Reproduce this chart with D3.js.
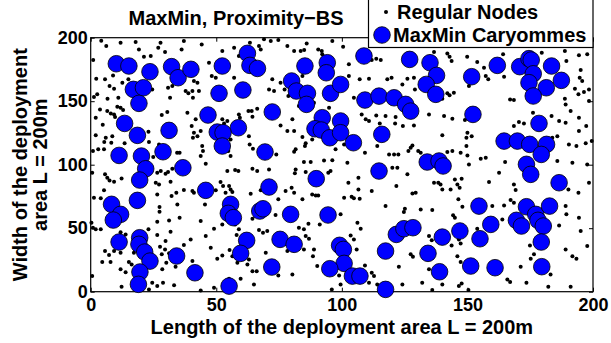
<!DOCTYPE html>
<html><head><meta charset="utf-8">
<script src="https://cdn.jsdelivr.net/npm/d3@7"></script>
<style>body{margin:0;background:#fff}svg{display:block}text{font-family:"Liberation Sans",Arial,Helvetica,sans-serif;font-weight:bold;fill:#000}</style>
</head><body><svg id="c" width="611" height="343"></svg>
<script>
const xTicks=[0,50,100,150,200];
const yTicks=[0,50,100,150,200];
const titleText="MaxMin, Proximity\u2212BS";
const xLabel="Length of the deployment area L = 200m";
const yLabelLines=["Width of the deployment","area L = 200m"];
const legendLabels=["Regular Nodes","MaxMin Caryommes"];
const regularNodes=[
[4.2,197.6],[11.9,196.1],[17.9,196.6],[27.8,196.1],[37.1,197.4],[6.2,193.4],[19.2,190.8],[26.9,192.1],[29.6,188.7],[36.2,190.8],[1.0,182.4],[21.2,185.0],[23.9,185.5],[2.2,167.7],[5.7,167.2],[8.9,170.3],[15.0,167.2],[7.5,161.9],[9.3,159.8],[12.6,164.5],[2.6,155.4],[1.3,153.3],[6.7,152.0],[11.0,152.7],[24.5,159.3],[30.8,160.6],[32.5,161.9],[37.8,158.0],[31.6,152.7],[38.9,156.2],[3.7,143.5],[6.6,142.2],[10.6,145.6],[11.9,144.9],[12.9,143.0],[8.0,140.4],[9.3,139.6],[9.7,137.5],[2.0,137.0],[4.8,131.5],[28.3,139.1],[30.5,141.5],[38.5,140.9],[2.0,123.1],[6.0,121.2],[8.6,122.5],[5.4,117.8],[8.2,117.3],[13.5,116.8],[23.0,126.0],[23.2,117.8],[0.9,110.7],[3.0,112.1],[5.3,112.1],[27.2,116.0],[24.9,106.0],[34.4,109.4],[35.4,109.4],[0.6,93.7],[5.7,92.4],[6.6,89.7],[9.3,86.6],[12.3,89.2],[7.5,87.6],[26.5,93.7],[27.9,95.0],[29.8,92.9],[30.8,94.2],[32.5,96.8],[25.9,85.8],[27.2,84.5],[31.8,86.6],[5.3,79.8],[1.3,74.0],[4.0,73.5],[26.5,76.6],[32.2,75.3],[34.1,77.9],[37.1,80.0],[27.4,66.6],[27.4,63.0],[34.5,68.7],[35.4,58.2],[0.3,54.3],[0.9,50.4],[2.0,49.1],[4.0,49.1],[26.5,55.1],[31.2,56.1],[31.8,47.2],[11.9,46.9],[13.9,45.1],[23.0,49.1],[26.5,44.6],[29.8,39.9],[5.7,32.0],[7.3,28.8],[9.3,32.0],[11.9,30.7],[17.2,30.7],[27.6,35.4],[29.6,33.3],[28.3,29.4],[31.2,30.2],[37.1,36.7],[4.6,23.3],[7.9,23.3],[15.2,23.3],[16.3,21.5],[11.9,17.6],[13.9,15.4],[30.1,22.8],[33.8,19.6],[28.5,17.6],[0.6,12.3],[24.5,7.1],[28.8,7.1],[26.5,4.4],[33.2,5.0],[12.3,3.9],[23.2,1.8],
[44.2,194.7],[52.4,189.5],[57.1,192.1],[63.4,196.1],[67.0,193.4],[67.7,190.8],[69.0,198.7],[71.7,197.4],[74.7,198.1],[78.3,193.4],[47.1,180.3],[59.0,185.5],[41.1,165.9],[42.5,164.5],[48.2,169.8],[49.8,168.5],[57.1,168.5],[72.3,167.2],[75.6,164.5],[77.2,159.3],[40.5,158.0],[43.1,158.0],[40.7,152.7],[71.0,159.3],[73.0,158.0],[78.7,154.1],[41.8,135.7],[40.2,130.4],[41.1,125.2],[42.5,122.5],[40.7,121.2],[43.8,126.5],[44.4,114.7],[44.7,110.7],[43.8,106.8],[45.8,100.8],[52.4,135.7],[54.4,134.4],[53.1,132.5],[59.0,139.6],[59.4,137.0],[62.8,142.2],[64.1,142.2],[64.4,137.8],[66.3,144.1],[75.6,130.9],[78.3,126.5],[63.0,122.5],[63.3,116.0],[64.6,112.6],[55.7,119.9],[54.8,110.7],[55.7,106.8],[51.1,117.3],[73.9,108.1],[54.4,95.0],[57.5,95.8],[58.8,95.0],[64.4,96.8],[66.3,95.0],[71.0,96.3],[51.7,86.3],[52.7,83.2],[55.1,83.2],[55.7,80.5],[56.4,78.5],[53.7,77.9],[49.8,79.8],[40.5,79.2],[41.1,77.9],[63.7,77.1],[67.7,79.8],[71.4,77.9],[74.7,72.7],[77.6,79.2],[45.5,68.7],[43.8,55.6],[49.1,49.6],[52.4,53.0],[57.5,53.0],[59.0,49.1],[58.1,44.6],[64.4,57.4],[67.0,48.5],[68.6,46.4],[70.3,47.7],[73.6,60.3],[39.8,41.2],[45.8,43.8],[47.8,34.6],[52.4,28.6],[55.3,32.8],[63.0,25.4],[69.7,30.7],[78.3,32.0],[40.5,24.1],[50.4,25.9],[56.4,28.0],[58.4,22.8],[62.4,21.5],[64.4,16.2],[66.1,16.2],[59.7,10.2],[65.0,5.7],[74.7,12.8],[55.1,10.2],[43.8,1.0],[49.1,3.1],
[81.0,189.5],[83.6,189.5],[85.0,190.3],[86.0,195.5],[90.6,190.8],[92.0,189.5],[92.2,186.9],[96.2,197.4],[100.5,192.9],[102.8,179.0],[111.9,182.4],[113.7,183.4],[115.5,182.4],[84.3,169.8],[102.8,169.8],[107.1,167.2],[110.8,167.7],[118.1,167.2],[104.8,152.7],[107.9,139.6],[109.5,135.7],[110.8,134.4],[113.7,138.8],[115.1,132.5],[117.4,138.3],[82.9,146.2],[88.9,148.8],[94.9,144.9],[80.3,135.7],[81.0,126.5],[84.3,121.8],[85.6,116.8],[85.3,114.7],[88.2,119.9],[81.6,112.1],[81.0,110.2],[97.5,112.1],[100.9,116.0],[109.2,109.4],[114.1,114.7],[118.8,108.1],[84.9,102.1],[87.6,102.1],[92.9,103.4],[96.2,103.6],[102.2,101.6],[81.6,96.3],[81.3,93.2],[85.6,94.2],[94.6,93.7],[95.5,95.0],[102.6,85.8],[106.6,89.7],[80.0,81.9],[81.0,77.9],[84.3,72.7],[88.2,76.6],[89.6,75.8],[90.6,75.8],[100.9,74.0],[103.9,74.8],[104.8,73.5],[107.1,73.2],[106.6,80.5],[111.9,79.2],[117.4,67.4],[80.0,58.2],[82.9,50.4],[84.9,49.1],[86.7,53.5],[91.2,53.0],[99.5,60.9],[106.2,54.3],[107.5,49.6],[85.6,43.8],[86.9,41.7],[84.9,33.3],[88.9,33.3],[88.5,28.0],[103.5,44.3],[104.8,41.2],[105.9,33.3],[90.2,20.2],[80.3,13.6],[98.9,12.8],[102.2,16.2],[109.2,20.7],[111.9,14.9],[112.8,12.3],[110.8,7.1],[114.1,5.7],[96.0,1.8],[99.5,5.7],
[126.1,167.7],[128.7,168.5],[124.1,163.2],[129.1,159.3],[119.8,168.5],[136.7,188.7],[142.0,187.6],[142.9,185.0],[143.7,181.6],[149.9,185.0],[153.9,180.8],[156.6,176.4],[157.3,169.8],[158.3,167.2],[140.0,152.0],[142.0,156.2],[142.9,154.6],[144.6,156.7],[150.6,161.9],[121.4,137.5],[121.2,132.5],[124.3,130.4],[128.7,130.9],[134.7,139.6],[140.7,138.3],[144.0,136.2],[140.0,123.1],[149.0,135.2],[149.6,121.2],[151.7,122.5],[150.0,125.2],[128.1,115.2],[127.4,113.4],[126.5,110.7],[120.8,108.1],[122.5,108.1],[120.1,97.6],[122.1,97.6],[130.4,110.7],[131.4,109.4],[142.0,110.0],[144.0,110.7],[147.3,109.4],[149.6,114.7],[150.0,107.3],[155.3,104.7],[157.3,105.5],[150.6,100.2],[126.1,92.4],[121.7,83.2],[128.1,77.4],[129.4,77.9],[136.7,85.8],[138.4,85.8],[139.3,84.5],[140.0,80.5],[143.3,80.5],[145.0,88.4],[146.0,84.5],[147.7,88.9],[146.9,81.9],[158.6,86.3],[125.1,65.3],[124.7,62.7],[131.4,64.8],[136.0,64.3],[146.4,72.7],[148.0,66.9],[144.3,60.1],[145.0,58.2],[153.9,49.6],[134.7,43.8],[135.8,40.6],[146.6,41.2],[147.3,38.0],[143.7,36.4],[127.4,29.4],[128.3,27.5],[122.7,19.6],[134.7,17.6],[146.0,28.0],[147.3,23.3],[124.1,5.7],[132.0,7.1],[136.0,1.3],[140.0,5.7],[146.6,4.4],[147.7,6.5],[150.4,1.3],
[164.2,186.9],[179.6,188.2],[188.8,189.5],[194.4,186.1],[197.7,186.9],[189.4,181.6],[164.6,169.3],[195.1,174.5],[194.7,168.5],[195.7,165.9],[192.8,159.8],[194.2,155.4],[196.4,157.2],[198.4,159.3],[167.0,151.4],[168.5,150.9],[188.8,151.9],[189.1,147.5],[191.1,142.2],[198.4,150.1],[176.1,140.9],[183.5,138.3],[186.5,134.4],[194.4,137.0],[168.5,130.4],[170.5,133.6],[172.5,132.5],[189.1,133.1],[197.3,130.4],[194.4,126.5],[183.8,121.2],[185.8,122.5],[190.4,116.0],[193.4,114.7],[197.1,116.8],[199.5,118.6],[165.0,102.1],[185.8,102.9],[191.8,101.6],[197.7,100.2],[162.6,93.7],[168.5,84.5],[169.2,80.0],[190.2,80.5],[194.2,77.9],[198.4,85.8],[159.9,67.4],[164.6,67.9],[167.2,72.2],[168.5,70.1],[189.1,67.4],[189.4,60.9],[186.5,52.2],[194.4,58.2],[195.1,47.7],[163.9,56.9],[174.9,36.4],[176.5,29.4],[175.2,25.9],[189.1,33.3],[191.8,28.0],[193.4,25.9],[197.7,35.9],[171.2,19.6],[183.1,13.6],[165.9,9.7],[167.0,7.6],[173.5,7.1],[182.2,3.9],[191.1,3.9]
];
const caryommes=[
[10.2,179.5],[15.2,177.7],[23.6,173.2],[32.2,177.2],[34.8,168.5],[39.9,175.1],[17.0,159.3],[21.0,160.6],[19.2,148.3],[13.5,132.5],[18.6,123.1],[31.2,127.0],[11.3,107.3],[20.2,106.8],[28.8,110.2],[21.9,96.8],[19.5,87.9],[36.7,97.6],[18.6,71.9],[8.3,68.8],[11.9,60.9],[9.0,56.4],[11.3,39.1],[19.5,42.5],[19.2,37.3],[21.5,31.2],[23.6,24.1],[34.2,28.1],[19.6,15.5],[19.0,5.8],
[41.5,14.9],[52.4,177.7],[62.4,187.7],[63.4,178.2],[66.4,175.8],[51.1,156.2],[60.6,158.8],[46.7,139.1],[58.8,129.1],[50.4,125.7],[52.7,125.2],[52.4,114.7],[72.3,141.5],[69.4,110.0],[45.8,79.8],[71.0,82.4],[55.7,68.8],[54.8,61.7],[56.8,58.3],[67.3,63.5],[68.6,65.3],[62.1,40.4],[59.7,30.2],[75.4,41.2],[72.1,19.4],[55.1,4.4],
[85.3,177.7],[94.2,180.3],[93.8,172.4],[108.8,185.6],[80.0,165.9],[81.9,158.0],[86.3,156.2],[85.9,147.5],[95.5,156.2],[99.5,163.2],[109.2,150.9],[114.8,154.0],[92.2,137.0],[89.3,128.3],[91.8,127.3],[95.2,121.2],[99.5,134.4],[99.5,125.2],[104.6,117.3],[115.9,123.9],[89.8,89.0],[114.8,95.0],[79.6,60.9],[94.5,60.4],[81.0,37.3],[99.1,36.5],[100.6,33.3],[100.9,22.3],[95.2,18.1],[104.2,12.3],[107.2,12.3],[117.4,32.0],[117.4,1.8],
[127.0,182.9],[135.1,180.3],[137.7,170.3],[133.6,163.2],[137.4,155.4],[120.8,152.7],[125.4,147.5],[127.4,142.2],[151.7,169.3],[152.2,139.6],[134.0,102.1],[138.7,102.9],[140.3,99.0],[154.6,67.4],[121.7,45.1],[124.7,49.6],[128.3,50.4],[140.0,43.0],[147.0,47.8],[155.0,41.7],[134.3,30.2],[138.9,15.7],[151.3,20.2],
[161.9,178.2],[170.8,177.2],[174.5,183.5],[175.4,182.4],[176.2,171.6],[183.5,177.7],[174.5,164.6],[181.4,160.6],[187.4,166.4],[176.2,154.1],[178.5,132.5],[164.6,118.6],[169.9,118.6],[174.8,116.0],[181.5,116.0],[179.4,108.1],[173.5,100.3],[175.2,92.4],[186.5,85.8],[159.3,53.0],[169.5,56.2],[171.5,51.7],[173.5,66.9],[177.2,60.9],[178.1,56.2],[180.2,51.7],[182.7,67.4],[179.4,39.1],[161.0,18.9],[179.6,19.7]
];

const svg=d3.select("#c");
const L=90.7,R=593,T=37.7,B=291.7;
const x=d3.scaleLinear().domain([0,200]).range([L,R]);
const y=d3.scaleLinear().domain([0,200]).range([B,T]);
const fs=18;

// axes with inward ticks
const gx=svg.append("g").attr("transform",`translate(0,${B})`)
  .call(d3.axisBottom(x).tickValues(xTicks).tickSize(-4).tickPadding(6.5).tickFormat(d3.format("d")));
const gy=svg.append("g").attr("transform",`translate(${L},0)`)
  .call(d3.axisLeft(y).tickValues(yTicks).tickSize(-4).tickPadding(3).tickFormat(d3.format("d")));
const gxt=svg.append("g").attr("transform",`translate(0,${T})`)
  .call(d3.axisTop(x).tickValues(xTicks).tickSize(-4).tickFormat(""));
const gyr=svg.append("g").attr("transform",`translate(${R},0)`)
  .call(d3.axisRight(y).tickValues(yTicks).tickSize(-4).tickFormat(""));
[gx,gy,gxt,gyr].forEach(g=>{g.select(".domain").remove();g.selectAll("line").attr("stroke","#000").attr("stroke-width",1);
  g.selectAll("text").style("font-size",fs+"px").style("font-family",'"Liberation Sans",Arial,sans-serif').style("font-weight","bold").attr("fill","#000");});
gx.selectAll("text").attr("dy","0.71em");
svg.append("rect").attr("x",L).attr("y",T).attr("width",R-L).attr("height",B-T).attr("fill","none").attr("stroke","#000").attr("stroke-width",1.2);

// points
svg.append("g").selectAll("circle").data(regularNodes).join("circle")
  .attr("cx",d=>x(d[0])).attr("cy",d=>y(d[1])).attr("r",2).attr("fill","#000");
svg.append("g").selectAll("circle").data(caryommes).join("circle")
  .attr("cx",d=>x(d[0])).attr("cy",d=>y(d[1])).attr("r",8.3).attr("fill","#0000ff").attr("stroke","#000").attr("stroke-width",0.8);

// title
svg.append("text").attr("x",236).attr("y",25).attr("text-anchor","middle").style("font-size","20px").text(titleText);
// x label
svg.append("text").attr("x",(L+R)/2).attr("y",333.5).attr("text-anchor","middle").style("font-size","20px").text(xLabel);
// y label
const cy=(T+B)/2;
[[26.5,yLabelLines[0]],[47,yLabelLines[1]]].forEach(([bx,t])=>{
  svg.append("text").attr("transform",`translate(${bx},${cy}) rotate(-90)`).attr("text-anchor","middle").style("font-size","20px").text(t);
});
// legend
const lg=svg.append("g");
lg.append("rect").attr("x",368.5).attr("y",-2).attr("width",R-368.5).attr("height",49.5).attr("fill","#fff").attr("stroke","#000").attr("stroke-width",1.2);
lg.append("circle").attr("cx",386).attr("cy",12).attr("r",2).attr("fill","#000");
lg.append("text").attr("x",397).attr("y",19).style("font-size","20px").text(legendLabels[0]);
lg.append("circle").attr("cx",382).attr("cy",35).attr("r",8.3).attr("fill","#0000ff").attr("stroke","#000").attr("stroke-width",0.8);
lg.append("text").attr("x",393).attr("y",42).style("font-size","20px").text(legendLabels[1]);
</script></body></html>
